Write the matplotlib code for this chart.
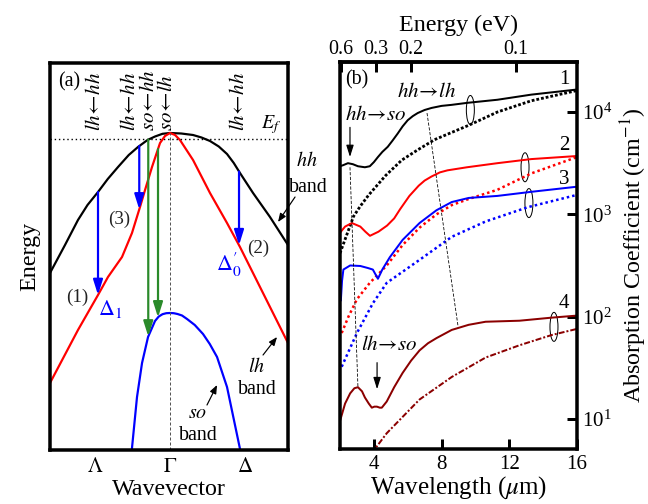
import numpy as np
import matplotlib
matplotlib.use('Agg')
import matplotlib.pyplot as plt
from matplotlib.patches import Ellipse
from matplotlib.transforms import ScaledTranslation
from matplotlib.ticker import NullLocator

plt.rcParams['font.family'] = ['Liberation Serif', 'DejaVu Serif']
plt.rcParams['mathtext.fontset'] = 'stix'

# ---------------- panel (a): schematic valence bands ----------------
k_hh = [-1.6, -1.4, -1.227, -1.1, -0.96, -0.83, -0.693, -0.55, -0.427, -0.3, -0.2, -0.1, 0.0,
        0.15, 0.307, 0.42, 0.533, 0.65, 0.76, 0.85, 0.933, 1.107, 1.333, 1.573]
E_hh = [177, 205, 230, 245, 258, 271, 283, 295, 303, 310, 313.5, 316.2, 317,
        316.5, 315, 312.5, 309, 303.5, 296, 287, 277, 257, 233, 205]

k_lh = [-1.6, -1.227, -0.96, -0.827, -0.64, -0.507, -0.4, -0.333, -0.24, -0.133, -0.067, 0.0,
        0.067, 0.133, 0.307, 0.533, 0.76, 0.933, 1.133, 1.333, 1.573]
E_lh = [67, 120, 155, 173, 193, 217, 243, 260, 283, 307, 314, 317,
        315, 310, 290, 257, 227, 203, 173, 143, 107]

k_so = [-0.52, -0.44, -0.373, -0.293, -0.2, -0.15, -0.1, -0.05, 0.0, 0.05, 0.1, 0.16, 0.227,
        0.33, 0.44, 0.53, 0.627, 0.76, 0.95]
E_so = [-8, 53, 87, 113, 129, 133.5, 135.8, 136.8, 137, 136.8, 136, 134.5, 131,
        125, 116, 106, 93, 63, -5]

E_fermi = 311
k_blue = [-0.96, -0.41, 0.92]      # lh <- hh transitions
k_green_hh = -0.29                  # so <- hh
k_green_lh = -0.16                  # so <- lh
k_ticks = [-1, 0, 1]
k_ticklabels = [r'$\Lambda$', r'$\Gamma$', r'$\Delta$']

top_label_k = [-0.987, -0.533, -0.267, -0.027, 0.92]
top_label_txt = [r'$lh\!\leftarrow\! hh$', r'$lh\!\leftarrow\! hh$', r'$so\!\leftarrow\! hh$',
                 r'$so\!\leftarrow\! lh$', r'$lh\!\leftarrow\! hh$']

# ---------------- panel (b): absorption spectra ----------------
lam1 = [2.0, 2.18, 2.47, 2.76, 3.06, 3.47, 3.76, 4.0, 4.24, 4.5, 4.82, 5.1, 5.41, 5.7, 6.0, 6.3, 6.59,
        7.0, 7.41, 8.0, 8.59, 9.53, 11.3, 13.3, 16.0]
log1 = [3.47, 3.48, 3.50, 3.49, 3.47, 3.46, 3.47, 3.51, 3.56, 3.61, 3.66, 3.72, 3.79, 3.86, 3.92, 3.96, 3.99,
        4.02, 4.04, 4.06, 4.07, 4.09, 4.12, 4.17, 4.22]

lam1d = [2.0, 2.4, 2.8, 3.2, 3.7, 4.7, 5.65, 6.59, 7.59, 8.59, 9.6, 11.3, 13.3, 16.0]
log1d = [2.62, 2.80, 2.98, 3.08, 3.19, 3.38, 3.53, 3.63, 3.73, 3.80, 3.87, 4.00, 4.11, 4.21]

lam2 = [2.0, 2.3, 2.7, 3.2, 3.5, 3.77, 4.27, 4.78, 5.2, 5.55, 6.1, 6.65, 7.0, 7.41, 7.9, 8.35, 9.5,
        11.3, 13.3, 16.0]
log2 = [2.82, 2.88, 2.915, 2.88, 2.83, 2.79, 2.83, 2.89, 2.96, 3.05, 3.18, 3.28, 3.33, 3.37, 3.41, 3.43, 3.46,
        3.50, 3.54, 3.57]

lam2d = [2.1, 2.5, 3.0, 3.76, 4.76, 5.7, 6.7, 7.7, 8.6, 9.6, 11.3, 13.3, 16.0]
log2d = [1.84, 2.00, 2.17, 2.33, 2.50, 2.70, 2.87, 3.00, 3.09, 3.15, 3.24, 3.40, 3.56]

lam3 = [2.05, 2.12, 2.2, 2.6, 3.2, 3.65, 3.94, 4.24, 4.5, 4.94, 5.7, 6.7, 7.7, 8.6, 9.6, 11.3, 13.3, 16.0]
log3 = [2.16, 2.35, 2.46, 2.50, 2.495, 2.475, 2.46, 2.37, 2.46, 2.58, 2.75, 2.915, 3.04, 3.12, 3.16, 3.18, 3.22, 3.27]

lam3d = [2.1, 3.0, 3.94, 4.76, 6.7, 8.6, 10.6, 13.1, 16.0]
log3d = [1.51, 1.84, 2.13, 2.33, 2.555, 2.78, 2.93, 3.07, 3.19]

lam4 = [2.0, 2.3, 2.6, 2.85, 3.06, 3.3, 3.47, 3.7, 3.88, 4.03, 4.18, 4.35, 4.47, 4.76, 5.2, 5.7,
        6.2, 6.7, 7.2, 7.7, 8.6, 9.6, 10.6, 12.6, 14.5, 16.0]
log4 = [0.98, 1.15, 1.25, 1.30, 1.31, 1.27, 1.21, 1.15, 1.11, 1.12, 1.12, 1.11, 1.11, 1.17, 1.31, 1.45,
        1.57, 1.67, 1.74, 1.79, 1.87, 1.92, 1.95, 1.96, 1.99, 2.01]

lam4d = [3.85, 4.76, 5.7, 6.7, 8.6, 10.6, 12.6, 14.5, 16.0]
log4d = [0.66, 0.86, 1.02, 1.19, 1.41, 1.60, 1.72, 1.82, 1.88]

energy_ticks = [0.6, 0.3, 0.2, 0.1]
wl_ticks = [4, 8, 12, 16]
alpha_ticks = [1e1, 1e2, 1e3, 1e4]

ell_lam = [9.7, 12.93, 13.16, 14.64]
ell_log = [4.02, 3.46, 3.11, 1.90]
num_lam = 15.23
num_log = [4.32, 3.67, 3.345, 2.13]

guide1_lam = [2.59, 3.06]
guide1_log = [3.46, 1.31]
guide2_lam = [7.14, 8.97]
guide2_log = [3.99, 1.91]

RED = '#ff0000'
BLUE = '#0000ff'
GREEN = '#2a8a2a'
DRED = '#8b0000'

fig = plt.figure(figsize=(9, 7), dpi=72)
axa = fig.add_axes([50 / 648, 54 / 504, 238 / 648, 387 / 504])
axb = fig.add_axes([340 / 648, 55 / 504, 237 / 648, 387 / 504])

# ---------------- draw panel (a) ----------------
axa.set_xlim(-1.6, 1.573)
axa.set_ylim(0, 387)
axa.plot(k_hh, E_hh, color='k', lw=2.2)
axa.plot(k_lh, E_lh, color=RED, lw=2.2)
axa.plot(k_so, E_so, color=BLUE, lw=2.2)
axa.plot([0, 0], [0, max(E_hh)], color='#555555', lw=1, ls=(0, (3, 2)))
axa.axhline(E_fermi, color='k', lw=1.4, ls=(0, (1, 2)))

def arrow(ax, x0, y0, x1, y1, color, lw=2.2, ms=18):
    ax.annotate('', xy=(x1, y1), xytext=(x0, y0),
                arrowprops=dict(arrowstyle='-|>,head_length=0.7,head_width=0.22', color=color,
                                lw=lw, shrinkA=0, shrinkB=0, mutation_scale=ms))

for kb in k_blue:
    arrow(axa, kb, np.interp(kb, k_hh, E_hh), kb, np.interp(kb, k_lh, E_lh), BLUE)
arrow(axa, k_green_hh, np.interp(k_green_hh, k_hh, E_hh), k_green_hh,
      np.interp(k_green_hh, k_so, E_so), GREEN)
arrow(axa, k_green_lh, np.interp(k_green_lh, k_lh, E_lh), k_green_lh,
      np.interp(k_green_lh, k_so, E_so), GREEN)

for kx, s in zip(top_label_k, top_label_txt):
    axa.text(kx, 319, s, rotation=90, ha='center', va='bottom', fontsize=21)

axa.text(-1.49, 368, '(a)', fontsize=20, ha='left', va='center')
axa.text(1.35, 325, r'$E_f$', fontsize=20, ha='center', va='center')
axa.text(-1.24, 153, '(1)', fontsize=19, ha='center', va='center', color='#222222')
axa.text(-0.68, 231, '(3)', fontsize=19, ha='center', va='center', color='#222222')
axa.text(1.173, 202, '(2)', fontsize=19, ha='center', va='center', color='#222222')
axa.text(-0.80, 141, r'$\Delta_1$', fontsize=22, ha='center', va='center', color=BLUE)
axa.text(0.78, 185, r'$\Delta_0^{\prime}$', fontsize=22, ha='center', va='center', color=BLUE)

axa.text(1.83, 288, r'$hh$', fontsize=20, ha='center', va='center')
axa.text(1.85, 263, 'band', fontsize=20, ha='center', va='center')
axa.annotate('', xy=(1.44, 228), xytext=(1.667, 253),
             arrowprops=dict(arrowstyle='-|>,head_length=0.5,head_width=0.2', color='k', lw=1.2,
                             shrinkA=0, shrinkB=0, mutation_scale=14), annotation_clip=False)
axa.text(1.16, 83, r'$lh$', fontsize=20, ha='center', va='center')
axa.text(1.16, 60, 'band', fontsize=20, ha='center', va='center')
axa.annotate('', xy=(1.427, 113), xytext=(1.24, 95),
             arrowprops=dict(arrowstyle='-|>,head_length=0.5,head_width=0.2', color='k', lw=1.2,
                             shrinkA=0, shrinkB=0, mutation_scale=14))
axa.text(0.373, 36, r'$so$', fontsize=20, ha='center', va='center')
axa.text(0.373, 14, 'band', fontsize=20, ha='center', va='center')
axa.annotate('', xy=(0.627, 65), xytext=(0.493, 45),
             arrowprops=dict(arrowstyle='-|>,head_length=0.5,head_width=0.2', color='k', lw=1.2,
                             shrinkA=0, shrinkB=0, mutation_scale=14))

axa.set_xticks(k_ticks)
axa.set_xticklabels(k_ticklabels)
axa.set_yticks([])
axa.tick_params(axis='x', length=0, pad=8, labelsize=21)
axa.set_xlabel('Wavevector', fontsize=24, labelpad=2)
axa.set_ylabel('Energy', fontsize=24, labelpad=10)
for sp in axa.spines.values():
    sp.set_linewidth(3.5)

# ---------------- draw panel (b) ----------------
axb.set_yscale('log')
axb.set_xlim(2, 16)
axb.set_ylim(10 ** 0.706, 10 ** 4.489)

p = lambda v: 10 ** np.asarray(v)
axb.plot(lam1, p(log1), color='k', lw=2)
axb.plot(lam1d, p(log1d), color='k', lw=2.8, ls=(0, (1, 0.7)))
axb.plot(lam2, p(log2), color=RED, lw=2)
axb.plot(lam2d, p(log2d), color=RED, lw=2.5, ls=(0, (1, 1.2)))
axb.plot(lam3, p(log3), color=BLUE, lw=2)
axb.plot(lam3d, p(log3d), color=BLUE, lw=2.5, ls=(0, (1, 1.2)))
axb.plot(lam4, p(log4), color=DRED, lw=2)
axb.plot(lam4d, p(log4d), color=DRED, lw=2, ls=(0, (3, 1, 1, 1)))

axb.plot(guide1_lam, p(guide1_log), color='k', lw=0.8, ls=(0, (4, 2)))
axb.plot(guide2_lam, p(guide2_log), color='k', lw=0.8, ls=(0, (4, 2)))

for lx, ly in zip(ell_lam, ell_log):
    tr = fig.dpi_scale_trans + ScaledTranslation(lx, 10 ** ly, axb.transData)
    axb.add_patch(Ellipse((0, 0), 8 / 72, 29 / 72, transform=tr, fill=False, lw=1.0, ec='k'))

for i, ly in enumerate(num_log):
    axb.text(num_lam, 10 ** ly, str(i + 1), fontsize=21, ha='center', va='center')

axb.text(2.3, 10 ** 4.31, '(b)', fontsize=20, ha='left', va='center')
axb.text(7.14, 10 ** 4.19, r'$hh\!\rightarrow\! lh$', fontsize=21, ha='center', va='center')
axb.text(4.13, 10 ** 3.97, r'$hh\!\rightarrow\! so$', fontsize=21, ha='center', va='center')
axb.text(4.89, 10 ** 1.72, r'$lh\!\rightarrow\! so$', fontsize=21, ha='center', va='center')
arrow(axb, 2.59, 10 ** 3.85, 2.59, 10 ** 3.56, 'k', lw=1.2, ms=14)
arrow(axb, 4.19, 10 ** 1.55, 4.19, 10 ** 1.29, 'k', lw=1.2, ms=14)

axb.set_xticks(wl_ticks)
axb.set_xticklabels([str(v) for v in wl_ticks])
axb.tick_params(axis='x', direction='in', length=10, width=3, labelsize=21, pad=6, top=False)
axb.yaxis.tick_right()
axb.set_yticks(alpha_ticks)
axb.yaxis.set_minor_locator(NullLocator())
axb.tick_params(axis='y', which='major', direction='in', length=10, width=3, labelsize=21, pad=5,
                left=False, right=True)
axb.yaxis.set_label_position('right')
axb.set_ylabel(r'Absorption Coefficient (cm$^{-1}$)', fontsize=24, labelpad=6)
axb.set_xlabel(r'Wavelength ($\mu$m)', fontsize=25, labelpad=0)
for sp in axb.spines.values():
    sp.set_linewidth(3.5)

def fwd(x):
    x = np.asarray(x, dtype=float)
    return 1.24 / np.where(np.abs(x) < 1e-6, 1e-6, x)

sec = axb.secondary_xaxis('top', functions=(fwd, fwd))
sec.set_xticks(energy_ticks)
sec.set_xticklabels([str(v) for v in energy_ticks])
sec.xaxis.set_minor_locator(NullLocator())
sec.tick_params(direction='in', length=10, width=3, labelsize=20, pad=3)
sec.spines['top'].set_linewidth(3.5)
sec.set_xlabel('Energy (eV)', fontsize=24, labelpad=9)

fig.savefig('out.png', dpi=72)
